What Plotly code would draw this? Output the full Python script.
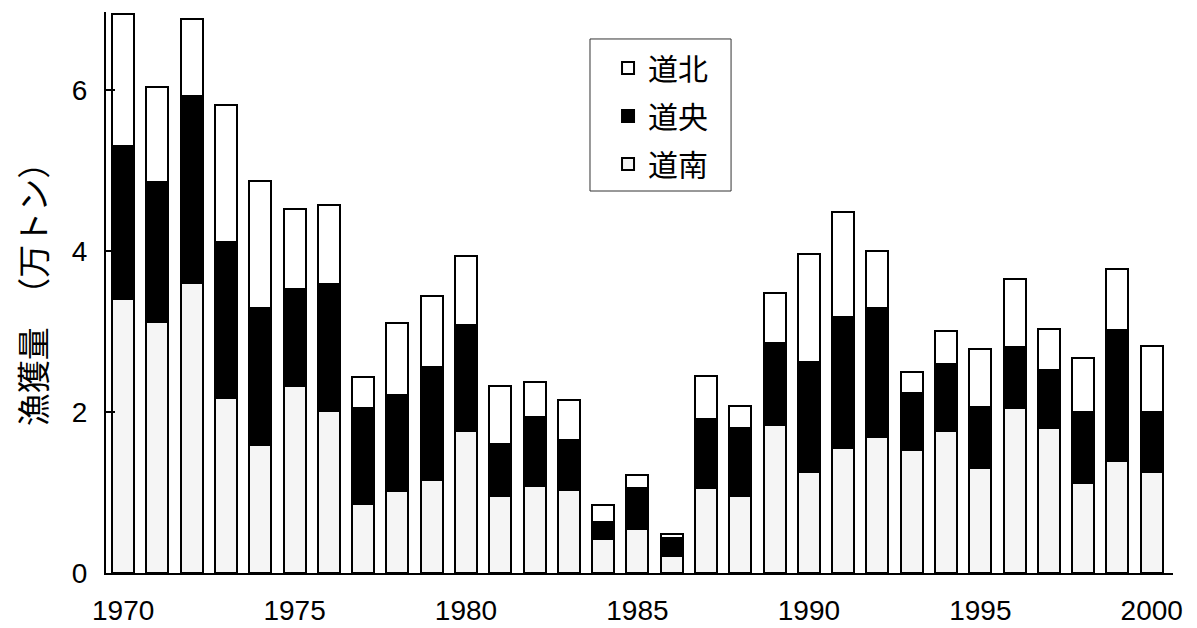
import plotly.graph_objects as go

years = list(range(1970, 2001))
# cumulative read-offs (万トン)
nan_top = [3.40, 3.12, 3.60, 2.17, 1.59, 2.32, 2.01, 0.86, 1.02, 1.16, 1.76, 0.96, 1.08, 1.03, 0.42, 0.55, 0.21,
           1.06, 0.96, 1.84, 1.25, 1.55, 1.69, 1.53, 1.76, 1.30, 2.05, 1.80, 1.12, 1.39, 1.25]
ou_top = [5.30, 4.86, 5.93, 4.11, 3.29, 3.53, 3.59, 2.05, 2.21, 2.56, 3.08, 1.60, 1.94, 1.65, 0.63, 1.06, 0.43,
          1.91, 1.80, 2.86, 2.62, 3.18, 3.29, 2.24, 2.60, 2.06, 2.81, 2.52, 2.00, 3.02, 2.00]
total = [6.94, 6.04, 6.88, 5.81, 4.87, 4.52, 4.57, 2.43, 3.11, 3.44, 3.94, 2.32, 2.37, 2.15, 0.84, 1.22, 0.48,
         2.45, 2.07, 3.48, 3.96, 4.48, 4.00, 2.50, 3.01, 2.78, 3.65, 3.03, 2.67, 3.78, 2.82]

donan = nan_top
dooh = [round(o - n, 2) for o, n in zip(ou_top, nan_top)]
dohoku = [round(t - o, 2) for t, o in zip(total, ou_top)]

series = [("道南", donan, "#f5f5f5", 3), ("道央", dooh, "#000000", 2), ("道北", dohoku, "#ffffff", 1)]
y_title = "漁獲量　（万トン）"
x_ticks = [1970, 1975, 1980, 1985, 1990, 1995, 2000]
y_ticks = [0, 2, 4, 6]

fig = go.Figure()
for name, vals, col, rank in series:
    fig.add_trace(go.Bar(x=years, y=vals, name=name, legendgroup=name, legendrank=rank, width=0.64,
                         marker=dict(color=col, line=dict(color="black", width=2))))

# page body adds an 8px offset, so the figure is sized to the visible area
fig.update_layout(
    barmode="stack",
    width=1189, height=620,
    margin=dict(l=98, r=24, t=4, b=55, autoexpand=False),
    paper_bgcolor="white", plot_bgcolor="white",
    font=dict(family="Liberation Sans, Arial, sans-serif", color="black", size=28),
    legend=dict(x=0.4705, y=0.9465, xanchor="left", yanchor="top", traceorder="grouped",
                borderwidth=0, bgcolor="rgba(0,0,0,0)",
                font=dict(family="Noto Sans CJK JP", size=30), tracegroupgap=6),
    showlegend=True,
    shapes=[dict(type="rect", xref="paper", yref="paper", x0=0.4536, x1=0.5858, y0=0.6809, y1=0.9519,
                 line=dict(color="#333333", width=1), fillcolor="white", layer="below")],
    annotations=[dict(text=y_title, xref="paper", yref="paper", x=-0.0694, y=0.513,
                      xanchor="center", yanchor="middle", textangle=-90, showarrow=False,
                      font=dict(family="Noto Sans CJK JP", size=33, color="black"))],
)
fig.update_xaxes(range=[1969.5, 2000.62], tickvals=x_ticks, automargin=False,
                 showline=True, linecolor="black", linewidth=2, ticks="", showgrid=False,
                 zeroline=False, tickfont=dict(size=28), ticklabelstandoff=11)
fig.update_yaxes(range=[0, 6.97], tickvals=y_ticks, automargin=False, showline=True, linecolor="black", linewidth=2,
                 ticks="inside", ticklen=9, tickwidth=2, tickcolor="black", showgrid=False, zeroline=False,
                 tickfont=dict(size=28), ticklabelstandoff=11)

fig.write_html("out.html")
